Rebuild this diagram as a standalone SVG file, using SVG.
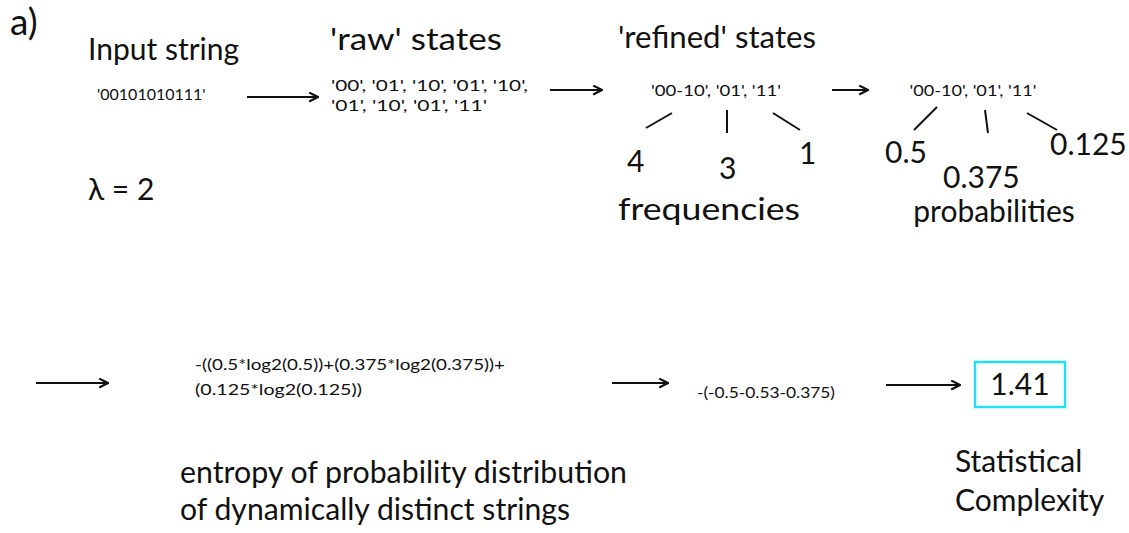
<svg xmlns="http://www.w3.org/2000/svg" width="1129" height="533" viewBox="0 0 1129 533">
<style>
text{font-family:Lato,"Open Sans",sans-serif;fill:#111}
.big{font-size:30px}
.sm{font-size:16px}
.mid{text-anchor:middle}
.line{stroke:#111;stroke-width:2;fill:none}
.arr{stroke:#111;stroke-width:2.2;fill:none;marker-end:url(#ah)}
</style>
<defs>
<marker id="ah" viewBox="0 0 10 10" refX="9" refY="5" markerWidth="5" markerHeight="5" orient="auto" markerUnits="strokeWidth">
<path d="M1,1 L9,5 L1,9" fill="none" stroke="#111" stroke-width="2"/>
</marker>
</defs>
<rect width="1129" height="533" fill="#fff"/>
<text x="10" y="35" style="font-size:37px">a)</text>
<g id="input">
<text class="big" x="88" y="60">Input string</text>
<text class="sm" x="97" y="100">'00101010111'</text>
</g>
<text class="big" x="88" y="200">λ = 2</text>
<g id="raw">
<text class="big" x="330" y="50" textLength="172" lengthAdjust="spacingAndGlyphs">'raw' states</text>
<text class="sm" x="331" y="91" textLength="197" lengthAdjust="spacingAndGlyphs">'00', '01', '10', '01', '10',</text>
<text class="sm" x="331" y="111" textLength="156" lengthAdjust="spacingAndGlyphs">'01', '10', '01', '11'</text>
</g>
<g id="refined">
<text class="big" x="618" y="48" textLength="198" lengthAdjust="spacingAndGlyphs">'refined' states</text>
<text class="sm mid" x="716" y="96" textLength="130" lengthAdjust="spacingAndGlyphs">'00-10', '01', '11'</text>
<line class="line" x1="646" y1="128" x2="672" y2="113"/>
<line class="line" x1="727" y1="110" x2="727" y2="133"/>
<line class="line" x1="773" y1="113" x2="800" y2="130"/>
<text class="big" x="627" y="172">4</text>
<text class="big" x="719" y="179">3</text>
<text class="big" x="799" y="164">1</text>
<text class="big" x="618" y="220" textLength="182" lengthAdjust="spacingAndGlyphs">frequencies</text>
</g>
<g id="probs">
<text class="sm mid" x="973" y="96" textLength="127" lengthAdjust="spacingAndGlyphs">'00-10', '01', '11'</text>
<line class="line" x1="937" y1="107" x2="914" y2="130"/>
<line class="line" x1="985" y1="110" x2="988" y2="133"/>
<line class="line" x1="1027" y1="113" x2="1057" y2="130"/>
<text class="big" x="885" y="163">0.5</text>
<text class="big" x="1050" y="155">0.125</text>
<text class="big" x="943" y="188">0.375</text>
<text class="big mid" x="994" y="222">probabilities</text>
</g>
<g id="entropy">
<text class="sm" x="195" y="370" textLength="310" lengthAdjust="spacingAndGlyphs">-((0.5*log2(0.5))+(0.375*log2(0.375))+</text>
<text class="sm" x="195" y="395" textLength="167" lengthAdjust="spacingAndGlyphs">(0.125*log2(0.125))</text>
<text class="big" x="180" y="483" textLength="447" lengthAdjust="spacingAndGlyphs">entropy of probability distribution</text>
<text class="big" x="180" y="520" textLength="390" lengthAdjust="spacingAndGlyphs">of dynamically distinct strings</text>
</g>
<g id="sum">
<text style="font-size:15px" x="697" y="398" textLength="138" lengthAdjust="spacingAndGlyphs">-(-0.5-0.53-0.375)</text>
</g>
<g id="result">
<rect x="975" y="362" width="90" height="45" fill="none" stroke="#22e0f0" stroke-width="2.5"/>
<text class="big mid" x="1020" y="395">1.41</text>
<text class="big" x="955" y="472">Statistical</text>
<text class="big" x="955" y="511">Complexity</text>
</g>
<g id="connectors">
<line class="arr" x1="247" y1="97" x2="318" y2="97"/>
<line class="arr" x1="550" y1="90" x2="602" y2="90"/>
<line class="arr" x1="832" y1="90" x2="868" y2="90"/>
<line class="arr" x1="36" y1="383" x2="108" y2="383"/>
<line class="arr" x1="612" y1="383" x2="668" y2="383"/>
<line class="arr" x1="886" y1="385" x2="960" y2="385"/>
</g>
</svg>
